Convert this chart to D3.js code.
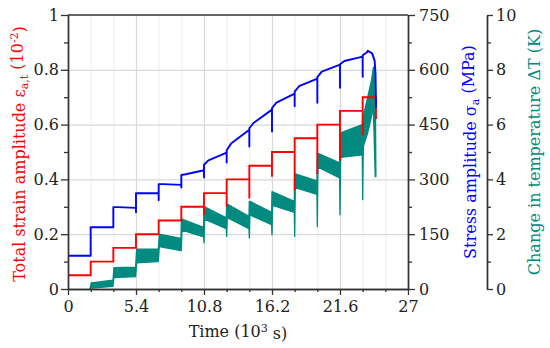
<!DOCTYPE html>
<html>
<head>
<meta charset="utf-8">
<script src="https://cdn.jsdelivr.net/npm/d3@7"></script>
<style>
  body { margin: 0; background: #fff; }
  svg { display: block; font-family: "DejaVu Serif", serif; }
</style>
</head>
<body>
<div id="chart"></div>
<script>
// start time of each strain block (10^3 s)
const stepStart = [0, 1.8, 3.6, 5.4, 7.2, 9.0, 10.8, 12.6, 14.4, 16.2, 18.0, 19.8, 21.6, 23.4];
const testEnd = 24.45;

// total strain amplitude (10^-2), level per block + short dip at block start
const strainLevel = [0.05, 0.10, 0.15, 0.20, 0.25, 0.30, 0.35, 0.40, 0.45, 0.50, 0.55, 0.60, 0.65, 0.70];
const strainDip = [null, null, null, null, null, null, 0.27, 0.30, 0.33, 0.41, 0.36, 0.42, 0.47, 0.56];
const strainFinal = 0.62;

// stress amplitude (MPa): after jump, 0.35 into block, end of block, dip at block start
const stressStart = [91, 169, 224, 262, 287, 312, 340, 380, 440, 495, 540, 580, 615, 640];
const stressKnee = [91, 169, 224, 262, 287, 314, 352, 398, 455, 510, 555, 595, 624, 648];
const stressEnd = [91, 169, 222, 262, 285, 325, 373, 436, 491, 535, 576, 614, 636, null];
const stressDip = [null, null, null, 210, 243, 278, 305, 346, 390, 431, 500, 510, 551, 581];
// run-out of the last block
const stressTailT = [23.8, 24.15, 24.35, 24.42, 24.46];
const stressTailV = [652, 645, 625, 590, 496];

// change in temperature (K): upper / lower edge of the noisy band
const tempStartHi = [null, 0.22, 0.78, 1.45, 2.0, 2.55, 3.0, 3.1, 3.2, 3.55, 4.2, 4.95, 5.7, 6.3];
const tempStartLo = [null, 0.03, 0.42, 0.95, 1.55, 2.15, 2.55, 2.6, 2.7, 3.05, 3.7, 4.45, 4.8, 5.2];
const tempEndHi = [null, 0.32, 0.8, 1.45, 1.85, 2.25, 2.6, 2.65, 2.8, 3.2, 3.95, 4.6, 6.0, null];
const tempEndLo = [null, 0.1, 0.45, 1.0, 1.4, 1.9, 2.2, 2.2, 2.35, 2.8, 3.45, 4.05, 4.9, null];
const tempDip = [null, null, null, null, null, 1.43, 1.68, 1.92, 1.86, 1.98, 1.92, 2.28, 2.71, 3.26];
const tempTailT = [23.8, 24.1, 24.25, 24.4, 24.45];
const tempTailHi = [7.0, 7.6, 8.1, 7.9, 4.1];
const tempTailLo = [5.7, 6.3, 6.6, 4.1, 4.1];

// ticks
const timeTicks = [0, 5.4, 10.8, 16.2, 21.6, 27];
const timeMinor = [1.8, 3.6, 7.2, 9.0, 12.6, 14.4, 18.0, 19.8, 23.4, 25.2];
const strainTicks = [0, 0.2, 0.4, 0.6, 0.8, 1];
const strainMinor = [0.1, 0.3, 0.5, 0.7, 0.9];
const stressTicks = [0, 150, 300, 450, 600, 750];
const stressMinor = [75, 225, 375, 525, 675];
const tempTicks = [0, 2, 4, 6, 8, 10];
const tempMinor = [1, 3, 5, 7, 9];

const width = 550, height = 348;
const plotL = 68, plotR = 408, plotT = 15, plotB = 289;
const tempAxisX = 487;

const svg = d3.select("#chart")
  .append("svg")
    .attr("width", width)
    .attr("height", height);

const x = d3.scaleLinear().domain([0, 27]).range([plotL, plotR]);
const yStrain = d3.scaleLinear().domain([0, 1]).range([plotB, plotT]);
const yStress = d3.scaleLinear().domain([0, 750]).range([plotB, plotT]);
const yTemp = d3.scaleLinear().domain([0, 10]).range([plotB, plotT]);

// grid
const grid = svg.append("g");
grid.append("g")
  .attr("transform", `translate(0,${plotB})`)
  .call(d3.axisBottom(x).tickValues(timeMinor).tickSize(-(plotB - plotT)).tickFormat(""))
  .call(g => g.select(".domain").remove())
  .selectAll("line").attr("stroke", "#ededed");
grid.append("g")
  .attr("transform", `translate(0,${plotB})`)
  .call(d3.axisBottom(x).tickValues(timeTicks.slice(1, -1)).tickSize(-(plotB - plotT)).tickFormat(""))
  .call(g => g.select(".domain").remove())
  .selectAll("line").attr("stroke", "#d9d9d9").attr("stroke-width", 1.2);
grid.append("g")
  .attr("transform", `translate(${plotL},0)`)
  .call(d3.axisLeft(yStrain).tickValues(strainTicks.slice(1, -1)).tickSize(-(plotR - plotL)).tickFormat(""))
  .call(g => g.select(".domain").remove())
  .selectAll("line").attr("stroke", "#d9d9d9").attr("stroke-width", 1.2);

// build series points
const redPts = [];
const bluePts = [];
const tealPts = [];
stepStart.forEach((t0, k) => {
  const t1 = k < stepStart.length - 1 ? stepStart[k + 1] : testEnd;
  if (strainDip[k] !== null) redPts.push([t0, strainDip[k]]);
  redPts.push([t0, strainLevel[k]]);
  redPts.push([t1, strainLevel[k]]);

  if (stressDip[k] !== null) bluePts.push([t0, stressDip[k]]);
  bluePts.push([t0, stressStart[k]]);
  bluePts.push([t0 + 0.35, stressKnee[k]]);
  if (stressEnd[k] !== null) bluePts.push([t1, stressEnd[k]]);

  if (tempStartHi[k] !== null) {
    if (k === 1) tealPts.push({t: t0 - 0.05, hi: 0.02, lo: 0});
    if (tempDip[k] !== null) tealPts.push({t: t0, hi: tempStartHi[k], lo: tempDip[k]});
    tealPts.push({t: t0 + 0.05, hi: tempStartHi[k], lo: tempStartLo[k]});
    if (tempEndHi[k] !== null) tealPts.push({t: t1 - 0.03, hi: tempEndHi[k], lo: tempEndLo[k]});
  }
});
redPts.push([testEnd + 0.01, strainFinal]);
stressTailT.forEach((t, i) => bluePts.push([t, stressTailV[i]]));
tempTailT.forEach((t, i) => tealPts.push({t: t, hi: tempTailHi[i], lo: tempTailLo[i]}));

// temperature band
svg.append("path")
  .datum(tealPts)
  .attr("fill", "#008a80")
  .attr("stroke", "#008a80")
  .attr("stroke-width", 1.3)
  .attr("stroke-linejoin", "round")
  .attr("d", d3.area().x(d => x(d.t)).y0(d => yTemp(d.lo)).y1(d => yTemp(d.hi)));

// strain
svg.append("path")
  .datum(redPts)
  .attr("fill", "none")
  .attr("stroke", "#ff0000")
  .attr("stroke-width", 1.9)
  .attr("d", d3.line().x(d => x(d[0])).y(d => yStrain(d[1])));

// stress
svg.append("path")
  .datum(bluePts)
  .attr("fill", "none")
  .attr("stroke", "#0000ff")
  .attr("stroke-width", 1.9)
  .attr("stroke-linejoin", "round")
  .attr("d", d3.line().x(d => x(d[0])).y(d => yStress(d[1])));

// axes
const axisColor = "#333";
function styleAxis(g) {
  g.select(".domain").attr("stroke", axisColor).attr("stroke-width", 1.4);
  g.selectAll("line").attr("stroke", axisColor).attr("stroke-width", 1.3);
  g.selectAll("text").attr("fill", "#222").style("font-size", "16px")
    .style("font-family", '"DejaVu Serif", serif');
}

svg.append("line")
  .attr("x1", plotL).attr("x2", plotR).attr("y1", plotT).attr("y2", plotT)
  .attr("stroke", axisColor).attr("stroke-width", 1.4);

svg.append("g")
  .attr("transform", `translate(0,${plotB})`)
  .call(d3.axisBottom(x).tickValues(timeMinor).tickSize(3).tickFormat("").tickSizeOuter(0))
  .call(styleAxis);
svg.append("g")
  .attr("transform", `translate(0,${plotB})`)
  .call(d3.axisBottom(x).tickValues(timeTicks).tickSize(6).tickPadding(6).tickSizeOuter(0)
    .tickFormat(d => String(d)))
  .call(styleAxis);

svg.append("g")
  .attr("transform", `translate(${plotL},0)`)
  .call(d3.axisLeft(yStrain).tickValues(strainMinor).tickSize(4).tickFormat("").tickSizeOuter(0))
  .call(styleAxis);
svg.append("g")
  .attr("transform", `translate(${plotL},0)`)
  .call(d3.axisLeft(yStrain).tickValues(strainTicks).tickSize(7).tickPadding(2).tickSizeOuter(0)
    .tickFormat(d => String(d)))
  .call(styleAxis);

svg.append("g")
  .attr("transform", `translate(${plotR},0)`)
  .call(d3.axisRight(yStress).tickValues(stressMinor).tickSize(4).tickFormat("").tickSizeOuter(0))
  .call(styleAxis);
svg.append("g")
  .attr("transform", `translate(${plotR},0)`)
  .call(d3.axisRight(yStress).tickValues(stressTicks).tickSize(7).tickPadding(4).tickSizeOuter(0)
    .tickFormat(d => String(d)))
  .call(styleAxis);

svg.append("g")
  .attr("transform", `translate(${tempAxisX},0)`)
  .call(d3.axisRight(yTemp).tickValues(tempMinor).tickSize(4).tickFormat("").tickSizeOuter(0))
  .call(styleAxis);
svg.append("g")
  .attr("transform", `translate(${tempAxisX},0)`)
  .call(d3.axisRight(yTemp).tickValues(tempTicks).tickSize(6).tickPadding(3).tickSizeOuter(0)
    .tickFormat(d => String(d)))
  .call(styleAxis);

// axis titles
const titleSize = 16, subSize = 11;

const xTitle = svg.append("text")
  .attr("x", 238).attr("y", 337)
  .attr("text-anchor", "middle")
  .attr("fill", "#222")
  .style("font-size", titleSize + "px");
xTitle.append("tspan").text("Time (10");
xTitle.append("tspan").attr("dy", "-0.45em").style("font-size", subSize + "px").text("3");
xTitle.append("tspan").attr("dy", "0.45em").text(" s)");

function vTitle(cx, cy, color, parts) {
  const t = svg.append("text")
    .attr("transform", `translate(${cx},${cy}) rotate(-90)`)
    .attr("text-anchor", "middle")
    .attr("dy", "0.35em")
    .attr("fill", color)
    .style("font-size", titleSize + "px");
  let shift = 0;
  parts.forEach(p => {
    const s = t.append("tspan").text(p.text);
    const target = p.sub ? 0.3 : p.sup ? -0.45 : 0;
    if (target !== shift) s.attr("dy", (target - shift) + "em");
    if (p.sub || p.sup) s.style("font-size", subSize + "px");
    shift = target;
  });
  return t;
}

vTitle(19, 154, "#ff0000", [
  {text: "Total strain amplitude ε"},
  {text: "a,t", sub: true},
  {text: " (10"},
  {text: "-2", sup: true},
  {text: ")"}
]);
vTitle(470, 152, "#0000ff", [
  {text: "Stress amplitude σ"},
  {text: "a", sub: true},
  {text: " (MPa)"}
]);
vTitle(534, 152, "#008a80", [
  {text: "Change in temperature ΔT (K)"}
]);
</script>
</body>
</html>
